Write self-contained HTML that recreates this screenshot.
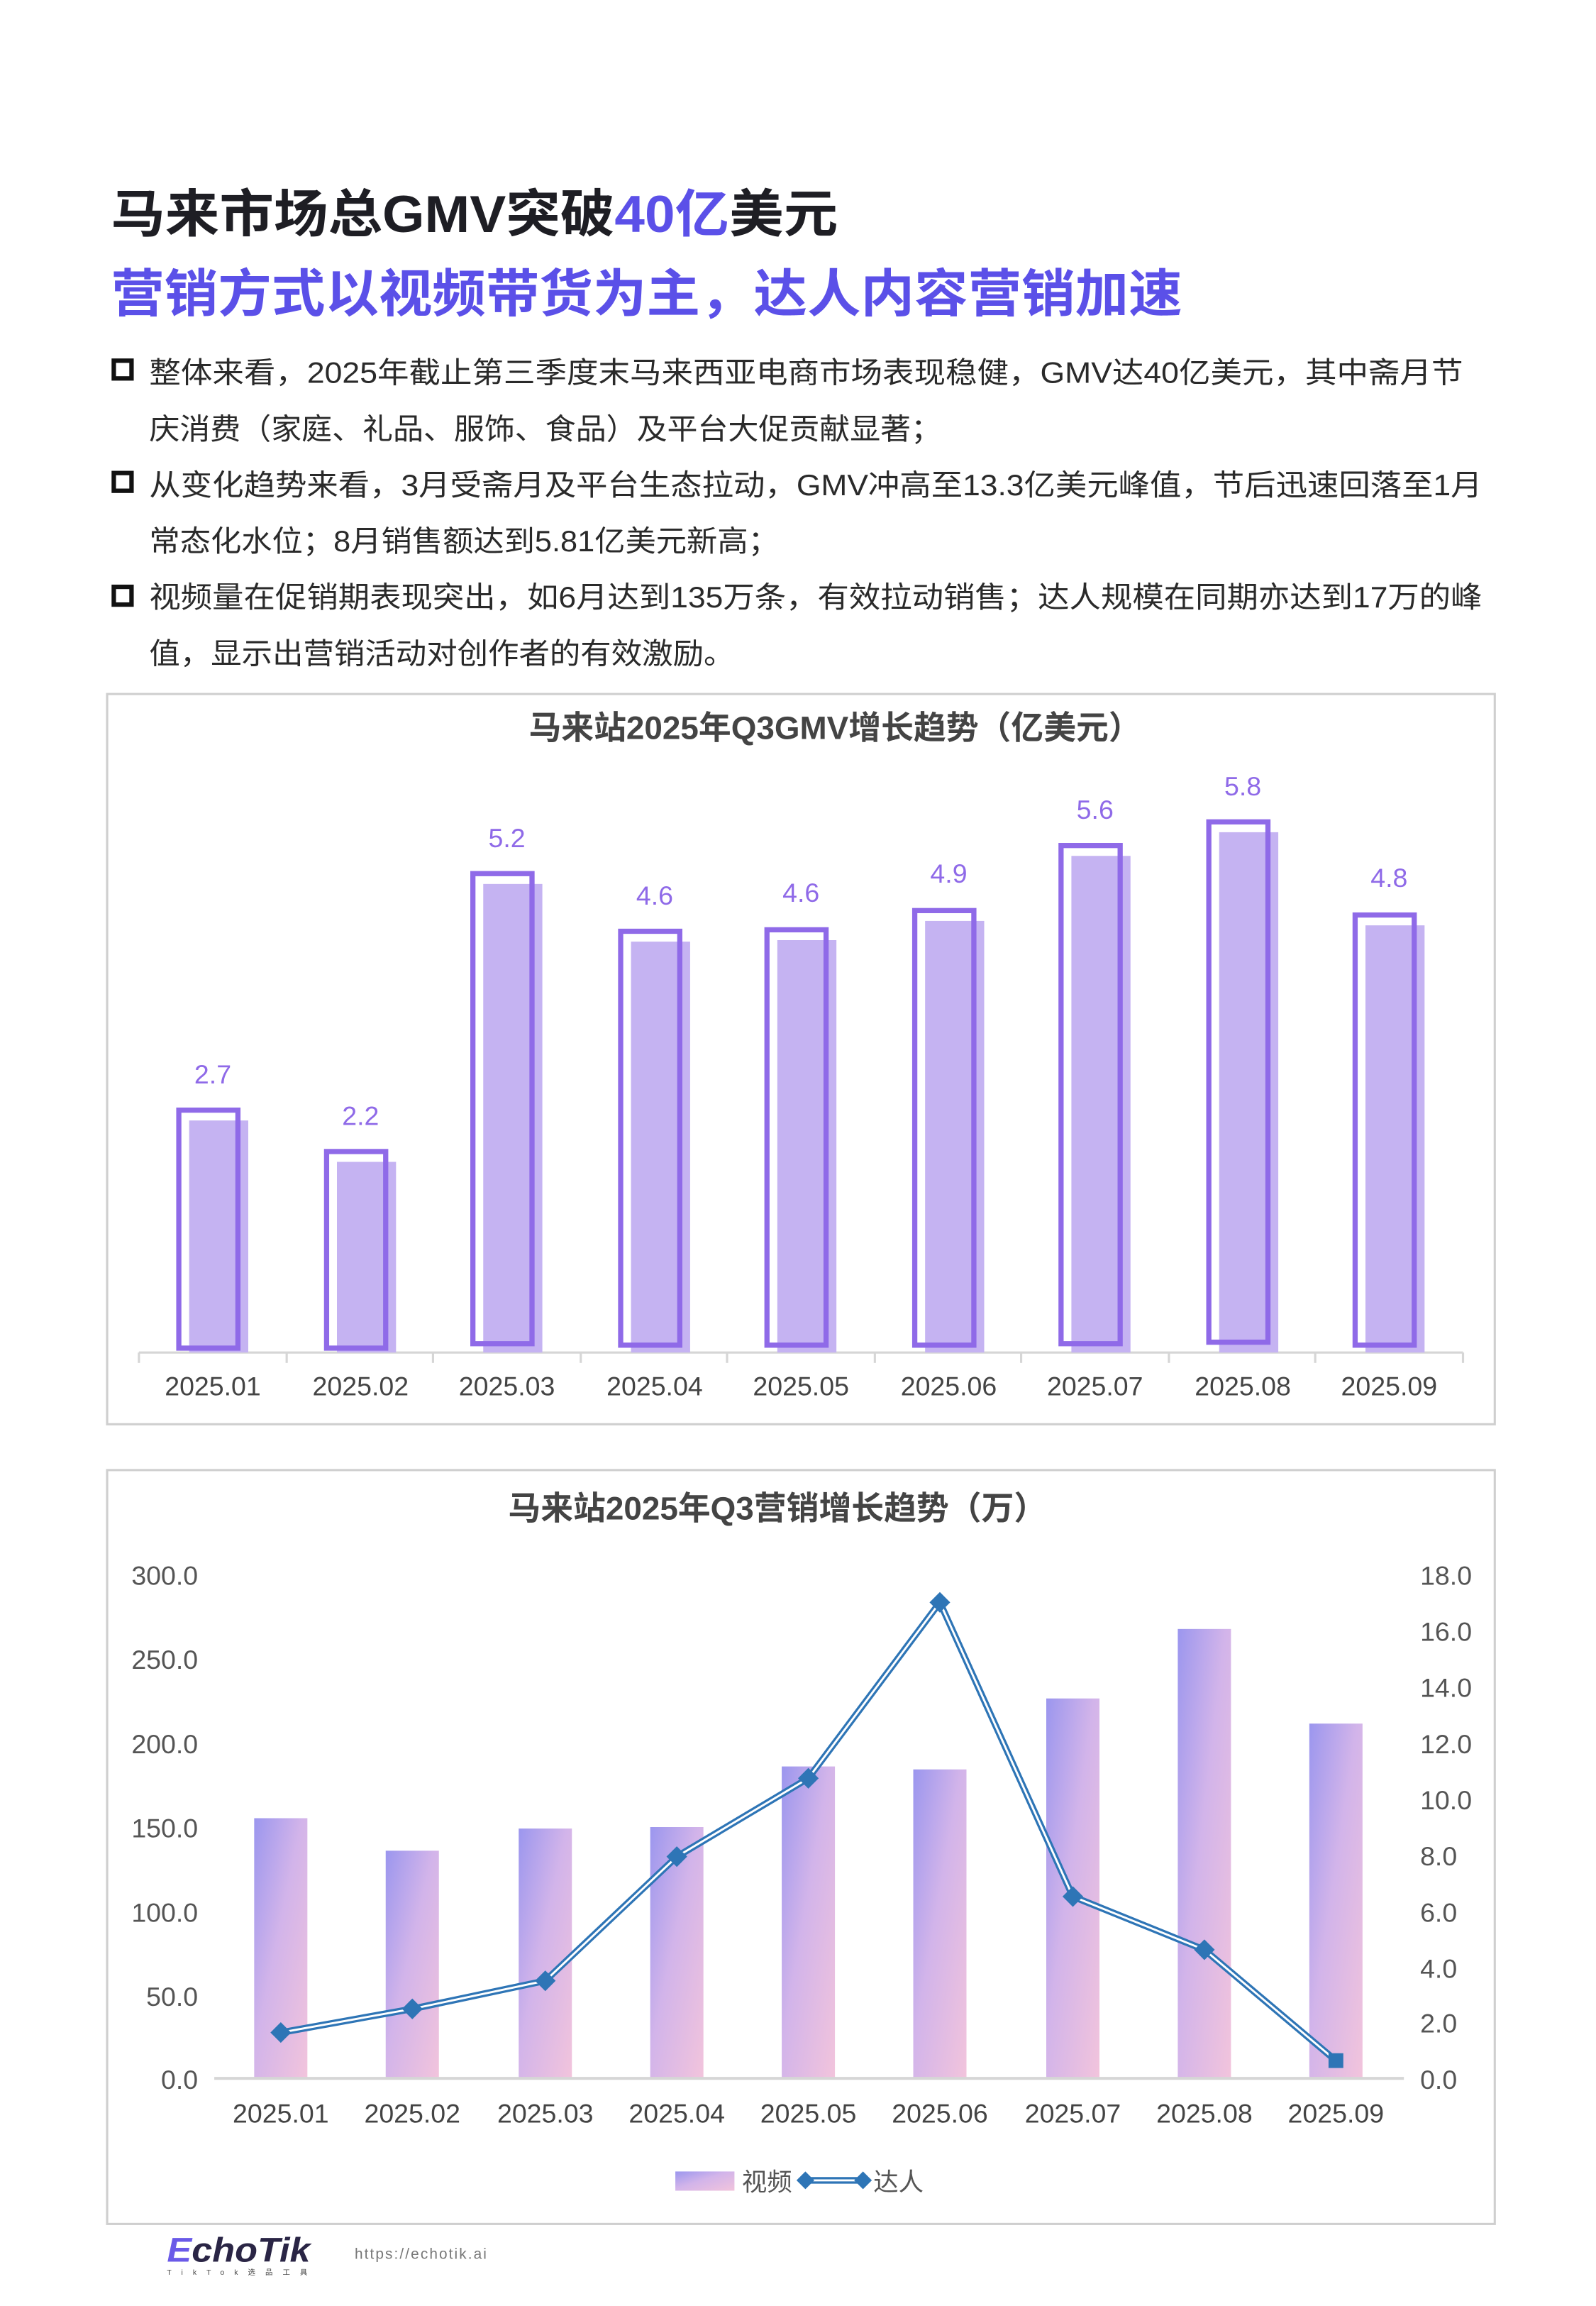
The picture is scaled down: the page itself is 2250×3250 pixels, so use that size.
<!DOCTYPE html>
<html><head><meta charset="utf-8"><style>
html,body{margin:0;padding:0;background:#fff;}
svg{display:block;}
text{font-family:"Liberation Sans","Noto Sans CJK SC",sans-serif;}
</style></head><body>
<svg width="2250" height="3250" viewBox="0 0 1080 1560" preserveAspectRatio="none" xmlns="http://www.w3.org/2000/svg">
<defs>
<linearGradient id="g" x1="0" y1="0" x2="1" y2="1">
<stop offset="0" stop-color="#9b96ee"/><stop offset="0.45" stop-color="#d2b4ea"/><stop offset="1" stop-color="#f2c4dc"/>
</linearGradient>
</defs>
<rect width="1080" height="1560" fill="#fff"/>
<!-- titles -->
<text x="75" y="157" font-size="35" font-weight="bold" fill="#1e1e24" textLength="492" lengthAdjust="spacingAndGlyphs">马来市场总GMV突破<tspan fill="#5b50e8">40亿</tspan>美元</text>
<text x="75" y="211" font-size="35" font-weight="bold" fill="#5b50e8" textLength="725" lengthAdjust="spacingAndGlyphs">营销方式以视频带货为主，达人内容营销加速</text>
<!-- bullets -->
<g fill="#2a2a2a" font-size="20">
<rect x="77" y="244" width="12" height="12" fill="none" stroke="#111" stroke-width="3"/>
<text x="101" y="259" textLength="889" lengthAdjust="spacingAndGlyphs">整体来看，2025年截止第三季度末马来西亚电商市场表现稳健，GMV达40亿美元，其中斋月节</text>
<text x="101" y="297" textLength="536" lengthAdjust="spacingAndGlyphs">庆消费（家庭、礼品、服饰、食品）及平台大促贡献显著；</text>
<rect x="77" y="320" width="12" height="12" fill="none" stroke="#111" stroke-width="3"/>
<text x="101" y="335" textLength="902" lengthAdjust="spacingAndGlyphs">从变化趋势来看，3月受斋月及平台生态拉动，GMV冲高至13.3亿美元峰值，节后迅速回落至1月</text>
<text x="101" y="373" textLength="426" lengthAdjust="spacingAndGlyphs">常态化水位；8月销售额达到5.81亿美元新高；</text>
<rect x="77" y="397" width="12" height="12" fill="none" stroke="#111" stroke-width="3"/>
<text x="101" y="411" textLength="902" lengthAdjust="spacingAndGlyphs">视频量在促销期表现突出，如6月达到135万条，有效拉动销售；达人规模在同期亦达到17万的峰</text>
<text x="101" y="449" textLength="396" lengthAdjust="spacingAndGlyphs">值，显示出营销活动对创作者的有效激励。</text>
</g>
<!-- chart 1 -->
<rect x="72.5" y="469.5" width="939" height="494" fill="#fff" stroke="#cfcfcf" stroke-width="1.5"/>
<text x="565" y="500" font-size="22" font-weight="bold" fill="#444" text-anchor="middle">马来站2025年Q3GMV增长趋势（亿美元）</text>
<line x1="94" y1="915" x2="990" y2="915" stroke="#d6d6d6" stroke-width="1.5"/>
<g stroke="#d6d6d6" stroke-width="1.5">
<line x1="94" y1="915" x2="94" y2="922"/><line x1="194" y1="915" x2="194" y2="922"/><line x1="293" y1="915" x2="293" y2="922"/><line x1="393" y1="915" x2="393" y2="922"/><line x1="492" y1="915" x2="492" y2="922"/><line x1="592" y1="915" x2="592" y2="922"/><line x1="691" y1="915" x2="691" y2="922"/><line x1="791" y1="915" x2="791" y2="922"/><line x1="890" y1="915" x2="890" y2="922"/><line x1="990" y1="915" x2="990" y2="922"/>
</g>
<g fill="#c5b3f2">
<rect x="128" y="758" width="40" height="157"/>
<rect x="228" y="786" width="40" height="129"/>
<rect x="327" y="598" width="40" height="317"/>
<rect x="427" y="637" width="40" height="278"/>
<rect x="526" y="636" width="40" height="279"/>
<rect x="626" y="623" width="40" height="292"/>
<rect x="725" y="579" width="40" height="336"/>
<rect x="825" y="563" width="40" height="352"/>
<rect x="924" y="626" width="40" height="289"/>
</g>
<g fill="none" stroke="#8f6ae8" stroke-width="3.5">
<rect x="121" y="751" width="40" height="161"/>
<rect x="221" y="779" width="40" height="133"/>
<rect x="320" y="591" width="40" height="318"/>
<rect x="420" y="630" width="40" height="280"/>
<rect x="519" y="629" width="40" height="281"/>
<rect x="619" y="616" width="40" height="294"/>
<rect x="718" y="572" width="40" height="337"/>
<rect x="818" y="556" width="40" height="352"/>
<rect x="917" y="619" width="40" height="291"/>
</g>
<g fill="#8f6ae8" font-size="18" text-anchor="middle">
<text x="144" y="733">2.7</text><text x="244" y="761">2.2</text><text x="343" y="573">5.2</text><text x="443" y="612">4.6</text><text x="542" y="610">4.6</text><text x="642" y="597">4.9</text><text x="741" y="554">5.6</text><text x="841" y="538">5.8</text><text x="940" y="600">4.8</text>
</g>
<g fill="#444" font-size="18" text-anchor="middle">
<text x="144" y="944">2025.01</text><text x="244" y="944">2025.02</text><text x="343" y="944">2025.03</text><text x="443" y="944">2025.04</text><text x="542" y="944">2025.05</text><text x="642" y="944">2025.06</text><text x="741" y="944">2025.07</text><text x="841" y="944">2025.08</text><text x="940" y="944">2025.09</text>
</g>
<!-- chart 2 -->
<rect x="72.5" y="994.5" width="939" height="510" fill="#fff" stroke="#cfcfcf" stroke-width="1.5"/>
<text x="526" y="1028" font-size="22" font-weight="bold" fill="#444" text-anchor="middle">马来站2025年Q3营销增长趋势（万）</text>
<g fill="#555" font-size="18" text-anchor="end">
<text x="134" y="1072">300.0</text><text x="134" y="1129">250.0</text><text x="134" y="1186">200.0</text><text x="134" y="1243">150.0</text><text x="134" y="1300">100.0</text><text x="134" y="1357">50.0</text><text x="134" y="1413">0.0</text>
</g>
<g fill="#555" font-size="18">
<text x="961" y="1072">18.0</text><text x="961" y="1110">16.0</text><text x="961" y="1148">14.0</text><text x="961" y="1186">12.0</text><text x="961" y="1224">10.0</text><text x="961" y="1262">8.0</text><text x="961" y="1300">6.0</text><text x="961" y="1338">4.0</text><text x="961" y="1375">2.0</text><text x="961" y="1413">0.0</text>
</g>
<g fill="url(#g)">
<rect x="172" y="1230" width="36" height="176"/>
<rect x="261" y="1252" width="36" height="154"/>
<rect x="351" y="1237" width="36" height="169"/>
<rect x="440" y="1236" width="36" height="170"/>
<rect x="529" y="1195" width="36" height="211"/>
<rect x="618" y="1197" width="36" height="209"/>
<rect x="708" y="1149" width="36" height="257"/>
<rect x="797" y="1102" width="36" height="304"/>
<rect x="886" y="1166" width="36" height="240"/>
</g>
<line x1="145" y1="1406" x2="950" y2="1406" stroke="#d6d6d6" stroke-width="2"/>
<polyline points="190,1375 279,1359 369,1340 458,1256 547,1203 636,1084 726,1283 815,1319 904,1394" fill="none" stroke="#2e75b6" stroke-width="4.5" stroke-linejoin="round"/>
<polyline points="190,1375 279,1359 369,1340 458,1256 547,1203 636,1084 726,1283 815,1319 904,1394" fill="none" stroke="#fff" stroke-width="1.4" stroke-linejoin="round"/>
<g fill="#2e75b6">
<path d="M190 1368 L197 1375 L190 1382 L183 1375Z"/>
<path d="M279 1352 L286 1359 L279 1366 L272 1359Z"/>
<path d="M369 1333 L376 1340 L369 1347 L362 1340Z"/>
<path d="M458 1249 L465 1256 L458 1263 L451 1256Z"/>
<path d="M547 1196 L554 1203 L547 1210 L540 1203Z"/>
<path d="M636 1077 L643 1084 L636 1091 L629 1084Z"/>
<path d="M726 1276 L733 1283 L726 1290 L719 1283Z"/>
<path d="M815 1312 L822 1319 L815 1326 L808 1319Z"/>
<rect x="899" y="1389" width="10" height="10"/>
</g>
<g fill="#444" font-size="18" text-anchor="middle">
<text x="190" y="1436">2025.01</text><text x="279" y="1436">2025.02</text><text x="369" y="1436">2025.03</text><text x="458" y="1436">2025.04</text><text x="547" y="1436">2025.05</text><text x="636" y="1436">2025.06</text><text x="726" y="1436">2025.07</text><text x="815" y="1436">2025.08</text><text x="904" y="1436">2025.09</text>
</g>
<rect x="457" y="1469" width="40" height="13" fill="url(#g)"/>
<text x="502" y="1482" font-size="17" fill="#555">视频</text>
<line x1="544" y1="1475" x2="585" y2="1475" stroke="#2e75b6" stroke-width="4.5"/>
<line x1="544" y1="1475" x2="585" y2="1475" stroke="#fff" stroke-width="1.4"/>
<path d="M545 1469 L551 1475 L545 1481 L539 1475Z" fill="#2e75b6"/>
<path d="M584 1469 L590 1475 L584 1481 L578 1475Z" fill="#2e75b6"/>
<text x="591" y="1482" font-size="17" fill="#555">达人</text>
<!-- footer -->
<text x="113" y="1530" font-size="23" font-weight="bold" font-style="italic" fill="#2a2545" textLength="97" lengthAdjust="spacingAndGlyphs"><tspan fill="#6a5ae8">E</tspan>choTik</text>
<text x="113" y="1539" font-size="5" fill="#444" textLength="95" lengthAdjust="spacing">TikTok选品工具</text>
<text x="240" y="1528" font-size="10" fill="#777" letter-spacing="1">https://echotik.ai</text>
</svg>
</body></html>
